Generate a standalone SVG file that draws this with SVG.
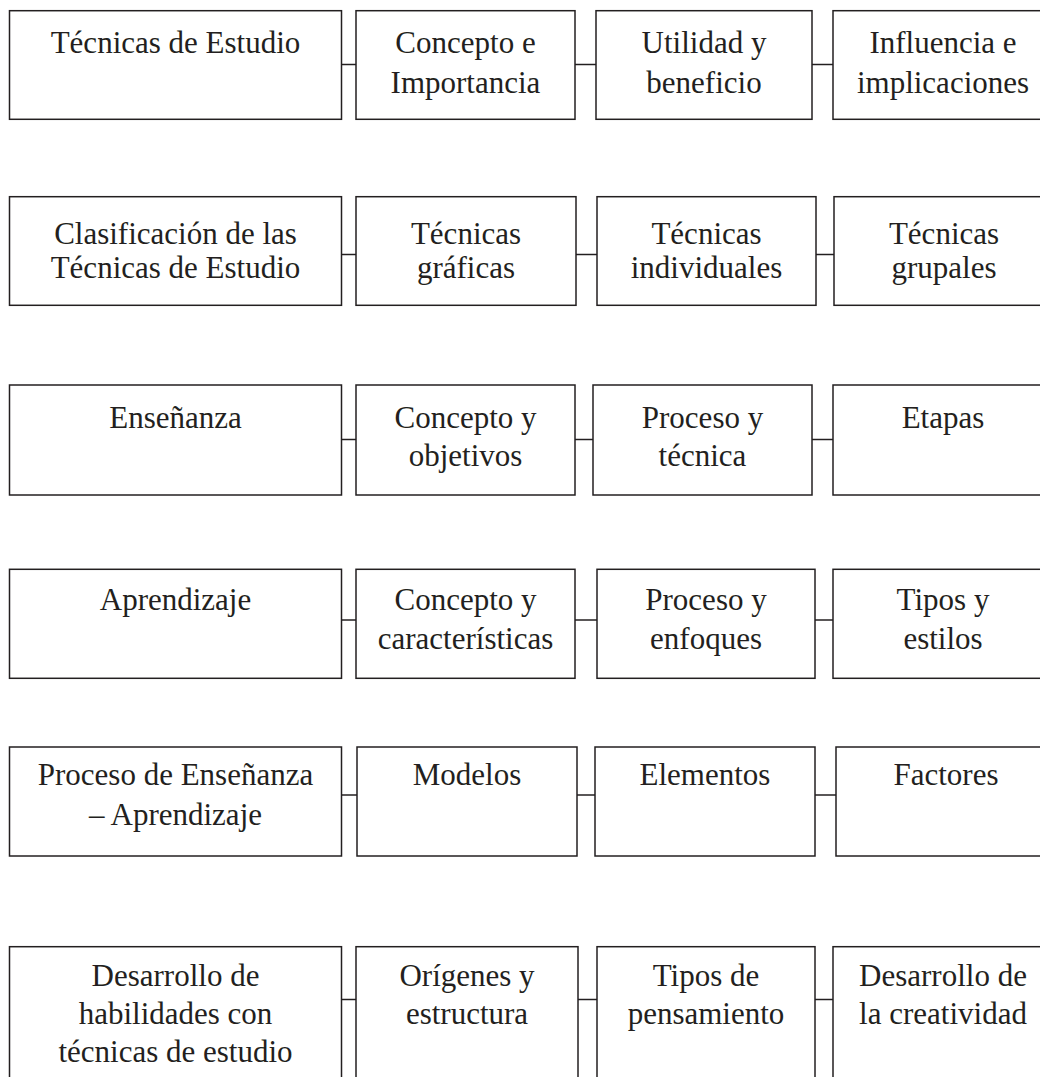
<svg xmlns="http://www.w3.org/2000/svg" width="1040" height="1077" viewBox="0 0 1040 1077">
<style>
rect{fill:#fff;stroke:#231f20;stroke-width:1.5}
line{stroke:#231f20;stroke-width:1.5}
text{font-family:"Liberation Serif","Times New Roman",serif;font-size:31px;fill:#231f20;text-anchor:middle}
</style>
<rect x="0" y="0" width="1040" height="1077" style="stroke:none"/>
<g id="connectors">
<line x1="341.5" y1="64.5" x2="356" y2="64.5"/>
<line x1="575" y1="64.5" x2="596" y2="64.5"/>
<line x1="812" y1="64.5" x2="833" y2="64.5"/>
<line x1="341.5" y1="254.5" x2="356" y2="254.5"/>
<line x1="576" y1="254.5" x2="597" y2="254.5"/>
<line x1="816" y1="254.5" x2="834" y2="254.5"/>
<line x1="341.5" y1="439.5" x2="356" y2="439.5"/>
<line x1="575" y1="439.5" x2="593" y2="439.5"/>
<line x1="812" y1="439.5" x2="833" y2="439.5"/>
<line x1="341.5" y1="620" x2="356" y2="620"/>
<line x1="575" y1="620" x2="597" y2="620"/>
<line x1="815" y1="620" x2="833" y2="620"/>
<line x1="341.5" y1="795" x2="357" y2="795"/>
<line x1="577" y1="795" x2="595" y2="795"/>
<line x1="815" y1="795" x2="836" y2="795"/>
<line x1="341.5" y1="999.5" x2="356" y2="999.5"/>
<line x1="578" y1="999.5" x2="597" y2="999.5"/>
<line x1="815" y1="999.5" x2="833" y2="999.5"/>
</g>
<g id="r1c1"><rect x="9.5" y="10.7" width="332" height="108.6"/><text x="175.5" y="53">Técnicas de Estudio</text></g>
<g id="r1c2"><rect x="356" y="10.7" width="219" height="108.6"/><text x="465.5" y="53">Concepto e</text><text x="465.5" y="93">Importancia</text></g>
<g id="r1c3"><rect x="596" y="10.7" width="216" height="108.6"/><text x="704" y="53">Utilidad y</text><text x="704" y="93">beneficio</text></g>
<g id="r1c4"><rect x="833" y="10.7" width="220" height="108.6"/><text x="943" y="53">Influencia e</text><text x="943" y="93">implicaciones</text></g>

<g id="r2c1"><rect x="9.5" y="196.7" width="332" height="108.6"/><text x="175.5" y="244">Clasificación de las</text><text x="175.5" y="278">Técnicas de Estudio</text></g>
<g id="r2c2"><rect x="356" y="196.7" width="220" height="108.6"/><text x="466" y="244">Técnicas</text><text x="466" y="278">gráficas</text></g>
<g id="r2c3"><rect x="597" y="196.7" width="219" height="108.6"/><text x="706.5" y="244">Técnicas</text><text x="706.5" y="278">individuales</text></g>
<g id="r2c4"><rect x="834" y="196.7" width="220" height="108.6"/><text x="944" y="244">Técnicas</text><text x="944" y="278">grupales</text></g>

<g id="r3c1"><rect x="9.5" y="385" width="332" height="110"/><text x="175.5" y="428">Enseñanza</text></g>
<g id="r3c2"><rect x="356" y="385" width="219" height="110"/><text x="465.5" y="428">Concepto y</text><text x="465.5" y="466">objetivos</text></g>
<g id="r3c3"><rect x="593" y="385" width="219" height="110"/><text x="702.5" y="428">Proceso y</text><text x="702.5" y="466">técnica</text></g>
<g id="r3c4"><rect x="833" y="385" width="220" height="110"/><text x="943" y="428">Etapas</text></g>

<g id="r4c1"><rect x="9.5" y="569.3" width="332" height="109"/><text x="175.5" y="610">Aprendizaje</text></g>
<g id="r4c2"><rect x="356" y="569.3" width="219" height="109"/><text x="465.5" y="610">Concepto y</text><text x="465.5" y="649">características</text></g>
<g id="r4c3"><rect x="597" y="569.3" width="218" height="109"/><text x="706" y="610">Proceso y</text><text x="706" y="649">enfoques</text></g>
<g id="r4c4"><rect x="833" y="569.3" width="220" height="109"/><text x="943" y="610">Tipos y</text><text x="943" y="649">estilos</text></g>

<g id="r5c1"><rect x="9.5" y="747" width="332" height="109"/><text x="175.5" y="785">Proceso de Enseñanza</text><text x="175.5" y="825">– Aprendizaje</text></g>
<g id="r5c2"><rect x="357" y="747" width="220" height="109"/><text x="467" y="785">Modelos</text></g>
<g id="r5c3"><rect x="595" y="747" width="220" height="109"/><text x="705" y="785">Elementos</text></g>
<g id="r5c4"><rect x="836" y="747" width="220" height="109"/><text x="946" y="785">Factores</text></g>

<g id="r6c1"><rect x="9.5" y="946.7" width="332" height="150"/><text x="175.5" y="986">Desarrollo de</text><text x="175.5" y="1024">habilidades con</text><text x="175.5" y="1062">técnicas de estudio</text></g>
<g id="r6c2"><rect x="356" y="946.7" width="222" height="150"/><text x="467" y="986">Orígenes y</text><text x="467" y="1024">estructura</text></g>
<g id="r6c3"><rect x="597" y="946.7" width="218" height="150"/><text x="706" y="986">Tipos de</text><text x="706" y="1024">pensamiento</text></g>
<g id="r6c4"><rect x="833" y="946.7" width="220" height="150"/><text x="943" y="986">Desarrollo de</text><text x="943" y="1024">la creatividad</text></g>
</svg>
